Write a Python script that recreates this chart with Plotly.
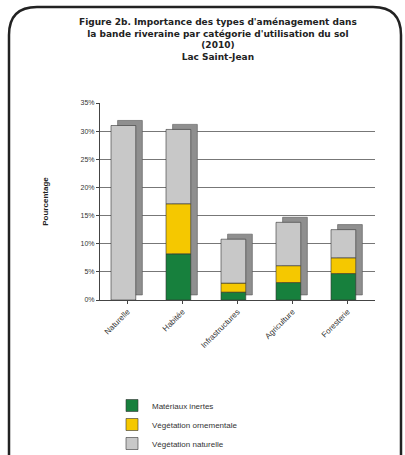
import plotly.graph_objects as go

categories = ["Naturelle", "Habitée", "Infrastructures", "Agriculture", "Foresterie"]
materiaux = [0.0, 8.2, 1.4, 3.1, 4.7]
ornementale = [0.0, 8.9, 1.6, 3.0, 2.8]
naturelle = [31.0, 13.2, 7.8, 7.7, 5.0]
tick_vals = [0, 5, 10, 15, 20, 25, 30, 35]
tick_text = ["0%", "5%", "10%", "15%", "20%", "25%", "30%", "35%"]

series = [
    ("Matériaux inertes", materiaux, "#17803d"),
    ("Végétation ornementale", ornementale, "#f5c800"),
    ("Végétation naturelle", naturelle, "#c8c8c8"),
]

totals = [a + b + c for a, b, c in zip(materiaux, ornementale, naturelle)]

fig = go.Figure()
# depth/side face of bars (3D hint)
fig.add_trace(go.Bar(
    x=categories, y=totals, base=[0.9] * len(totals), width=0.45, offset=-0.18,
    marker=dict(color="#8f8f8f", line=dict(color="#555555", width=0.6)),
    showlegend=False, hoverinfo="skip"))
bases = [0.0] * len(categories)
for name, vals, col in series:
    fig.add_trace(go.Bar(
        x=categories, y=vals, base=list(bases), name=name, width=0.45, offset=-0.3,
        marker=dict(color=col, line=dict(color="#333333", width=0.6))))
    bases = [b + v for b, v in zip(bases, vals)]

L, R, T, B = 100, 30, 103, 155
W = 405 - L - R
H = 455 - T - B

def px(x):
    return (x - L) / W

def py(y):
    return (455 - B - y) / H

r = 28
x0, x1, y0, y1 = 9, 401, 7, 470
path = (f"M {px(x0)},{py(y0 + r)} Q {px(x0)},{py(y0)} {px(x0 + r)},{py(y0)} "
        f"L {px(x1 - r)},{py(y0)} Q {px(x1)},{py(y0)} {px(x1)},{py(y0 + r)} "
        f"L {px(x1)},{py(y1)} L {px(x0)},{py(y1)} Z")

title_text = ("<b>Figure 2b. Importance des types d'aménagement dans<br>"
              "la bande riveraine par catégorie d'utilisation du sol<br>"
              "(2010)<br>Lac Saint-Jean</b>")

fig.update_layout(
    width=405, height=455,
    margin=dict(l=L, r=R, t=T, b=B, autoexpand=False),
    barmode="overlay",
    paper_bgcolor="white", plot_bgcolor="white",
    font=dict(family="Liberation Sans, Arial", size=8, color="#222222"),
    xaxis=dict(tickangle=-45, showgrid=False, showline=True, linecolor="#444444",
               ticks="outside", ticklen=3, tickfont=dict(size=8, color="#333333"),
               range=[-0.5, 4.5]),
    yaxis=dict(range=[0, 35], tickvals=tick_vals, ticktext=tick_text,
               showgrid=True, gridcolor="#777777", gridwidth=1,
               showline=True, linecolor="#444444", ticks="outside", ticklen=3,
               tickfont=dict(size=7, color="#333333"),
               title=dict(text="<b>Pourcentage</b>", font=dict(size=8), standoff=30)),
    legend=dict(x=px(112), y=py(391), xanchor="left", yanchor="top",
                orientation="v", traceorder="normal",
                font=dict(size=8, color="#333333"), itemwidth=30,
                tracegroupgap=0, bgcolor="rgba(0,0,0,0)"),
    annotations=[dict(text=title_text, xref="paper", yref="paper",
                      x=px(218), y=py(15), xanchor="center", yanchor="top",
                      showarrow=False, align="center",
                      font=dict(family="DejaVu Sans", size=9, color="#222222"))],
    shapes=[dict(type="path", xref="paper", yref="paper", path=path,
                 line=dict(color="#222222", width=2.5), fillcolor="rgba(0,0,0,0)",
                 layer="above")],
)

fig.write_html("out.html")
